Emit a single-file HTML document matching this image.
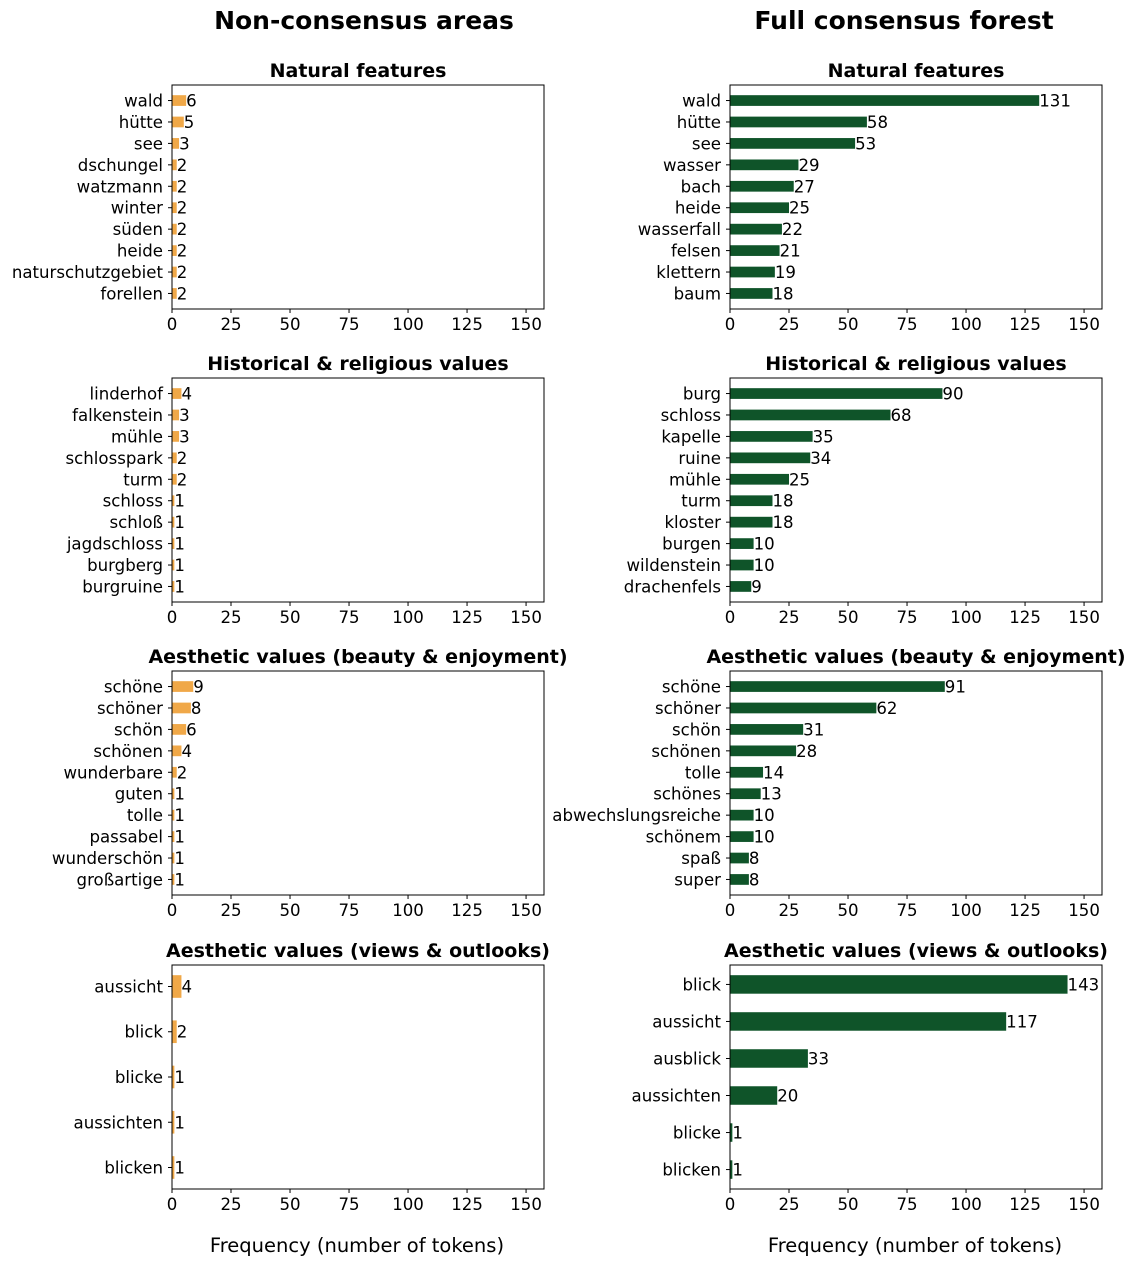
<!DOCTYPE html>
<html><head><meta charset="utf-8"><style>
body{margin:0;background:#fff;font-family:"Liberation Sans","DejaVu Sans",sans-serif}
svg text{font-family:"DejaVu Sans","Liberation Sans",sans-serif}
</style></head><body>
<svg id="c" width="1140" height="1265"></svg>
<script>
const titlesL=["Natural features","Historical & religious values","Aesthetic values (beauty & enjoyment)","Aesthetic values (views & outlooks)"];
const catsL1=["wald","hütte","see","dschungel","watzmann","winter","süden","heide","naturschutzgebiet","forellen"];
const valsL1=[6,5,3,2,2,2,2,2,2,2];
const catsL2=["linderhof","falkenstein","mühle","schlosspark","turm","schloss","schloß","jagdschloss","burgberg","burgruine"];
const valsL2=[4,3,3,2,2,1,1,1,1,1];
const catsL3=["schöne","schöner","schön","schönen","wunderbare","guten","tolle","passabel","wunderschön","großartige"];
const valsL3=[9,8,6,4,2,1,1,1,1,1];
const catsL4=["aussicht","blick","blicke","aussichten","blicken"];
const valsL4=[4,2,1,1,1];
const catsR1=["wald","hütte","see","wasser","bach","heide","wasserfall","felsen","klettern","baum"];
const valsR1=[131,58,53,29,27,25,22,21,19,18];
const catsR2=["burg","schloss","kapelle","ruine","mühle","turm","kloster","burgen","wildenstein","drachenfels"];
const valsR2=[90,68,35,34,25,18,18,10,10,9];
const catsR3=["schöne","schöner","schön","schönen","tolle","schönes","abwechslungsreiche","schönem","spaß","super"];
const valsR3=[91,62,31,28,14,13,10,10,8,8];
const catsR4=["blick","aussicht","ausblick","aussichten","blicke","blicken"];
const valsR4=[143,117,33,20,1,1];
const ticks=[0,25,50,75,100,125,150];

const svg=document.getElementById('c');
const NS='http://www.w3.org/2000/svg';
function el(t,a,txt){const e=document.createElementNS(NS,t);for(const k in a)e.setAttribute(k,a[k]);if(txt!==undefined)e.textContent=txt;svg.appendChild(e);return e;}
const rowsY=[85,378,671,965], H=224, W=372, colX=[172,730];
const XMAX=157.6;
const panels=[[catsL1,valsL1,catsL2,valsL2,catsL3,valsL3,catsL4,valsL4],[catsR1,valsR1,catsR2,valsR2,catsR3,valsR3,catsR4,valsR4]];
const colors=["#f0a848","#0f5429"];
const FS=16.6;
for(let c=0;c<2;c++){
 for(let r=0;r<4;r++){
  const cats=panels[c][r*2], vals=panels[c][r*2+1];
  const x0=colX[c], y0=rowsY[r], n=cats.length;
  const ext=n-0.5, m=0.05*ext, lo=-0.25-m, hi=n-1+0.25+m;
  const sx=v=>x0+v/XMAX*W;
  const sy=i=>y0+(i-lo)/(hi-lo)*H;
  const unit=H/(hi-lo);
  let t=el('text',{x:x0+W/2,y:y0-8,'text-anchor':'middle','font-size':19,'font-weight':'bold'},titlesL[r]);
  
  
  for(let i=0;i<n;i++){
   const yc=sy(i);
   const b=el('rect',{x:x0,y:yc-unit*0.25,width:Math.max(0,sx(vals[i])-x0),height:unit*0.5,fill:colors[c]});
   
   
   const vl=el('text',{x:sx(vals[i]),y:yc+6,'font-size':FS},vals[i]);
   
   
   el('line',{x1:x0-4,x2:x0,y1:yc,y2:yc,stroke:'#000'});
   const cl=el('text',{x:x0-9,y:yc+6,'font-size':FS,'text-anchor':'end'},cats[i]);
   
   
  }
  const fr=el('rect',{x:x0,y:y0,width:W,height:H,fill:'none',stroke:'#000','stroke-width':1});
  
  
  for(const tk of ticks){
   const x=sx(tk);
   el('line',{x1:x,x2:x,y1:y0+H,y2:y0+H+4,stroke:'#000'});
   const tl=el('text',{x:x,y:y0+H+21,'font-size':FS,'text-anchor':'middle'},tk);
   
   
  }
 }
 const xl=el('text',{x:colX[c]+W/2-1,y:1252,'font-size':19.5,'text-anchor':'middle'},'Frequency (number of tokens)');
 
 
}
const st1=el('text',{x:364,y:29,'font-size':25,'font-weight':'bold','text-anchor':'middle'},'Non-consensus areas');


const st2=el('text',{x:904,y:29,'font-size':25,'font-weight':'bold','text-anchor':'middle'},'Full consensus forest');


</script>
</body></html>
